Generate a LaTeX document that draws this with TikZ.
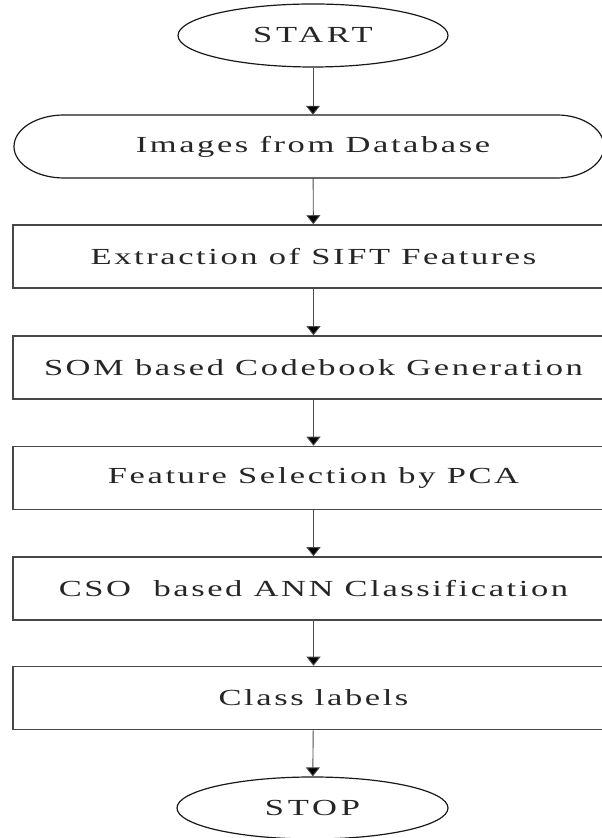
\documentclass[tikz,border=0pt]{standalone}
\usepackage{fontspec}
\usepackage{graphicx}
\setmainfont{Liberation Serif}
% lightly tracked serif, widened by a horizontal scale in \wide
\newfontfamily\stagefont{Liberation Serif}[LetterSpace=7.5]
\newfontfamily\termfont{Liberation Serif}[LetterSpace=11]
\newcommand\wide[1]{\scalebox{1.5}[1]{#1}}
\usetikzlibrary{shapes.geometric,arrows.meta}

\begin{document}
\begin{tikzpicture}[x=1pt,y=1pt,
  every node/.style={font=\stagefont\fontsize{23}{27}\selectfont, text=black!85, inner sep=0pt},
  outline/.style={draw=black!90, line width=1.2pt},
  oval/.style={ellipse, outline, minimum width=270pt, minimum height=63pt,
    font=\termfont\fontsize{23}{27}\selectfont},
  stage/.style={rectangle, draw=black!72, line width=1.5pt, minimum width=601pt, minimum height=63pt},
  flow/.style={draw=black!70, line width=0.9pt, -{Triangle[width=14pt,length=9pt,fill=black]}}
]
\useasboundingbox (0,0) rectangle (602,838);
\clip (0,0) rectangle (602,838);

% terminals and process stages
\node[oval] (start) at (313,802.5) {\wide{START}};
\node[minimum width=493pt, minimum height=63pt] (img) at (313,691.5) {\wide{Images from Database}};
\node[stage] (b1) at (313.5,581.5) {\wide{Extraction of SIFT Features}};
\node[stage] (b2) at (313.5,470.5) {\wide{SOM based Codebook Generation}};
\node[stage] (b3) at (313.5,360) {\wide{Feature Selection by PCA}};
\node[stage] (b4) at (313.5,249.5) {\wide{CSO\ \ based ANN Classification}};
\node[stage] (b5) at (313.5,140) {\wide{Class labels}};
\node[oval, minimum width=271pt, minimum height=62pt] (stop) at (312.5,30) {\wide{STOP}};

% stadium outline round the input node
\draw[outline] (64,723) -- (557,723)
  arc[start angle=90, end angle=-90, x radius=47, y radius=31.5]
  -- (64,660)
  arc[start angle=270, end angle=90, x radius=50, y radius=31.5] -- cycle;

% connectors
\draw[flow] (start) -- (img);
\draw[flow] (img) -- (b1);
\draw[flow] (b1) -- (b2);
\draw[flow] (b2) -- (b3);
\draw[flow] (b3) -- (b4);
\draw[flow] (b4) -- (b5);
\draw[flow] (b5) -- (stop);
\end{tikzpicture}
\end{document}
